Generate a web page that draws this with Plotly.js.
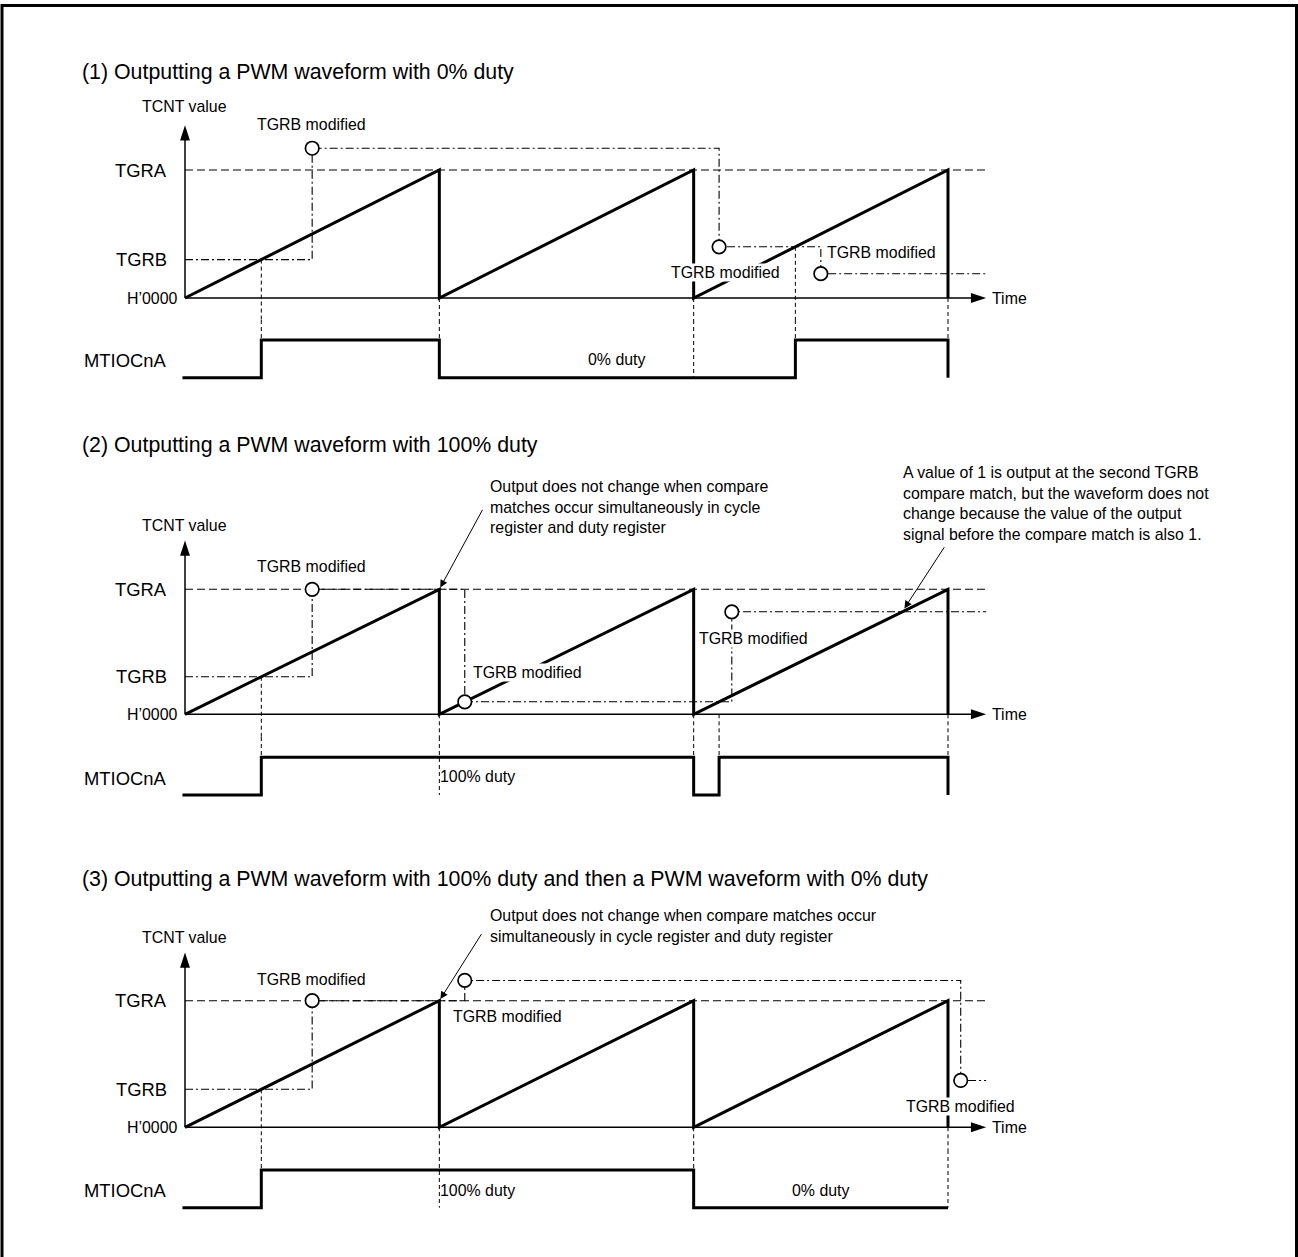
<!DOCTYPE html>
<html>
<head>
<meta charset="utf-8">
<script src="https://cdn.plot.ly/plotly-3.0.1.min.js"></script>
<style>
html,body{margin:0;padding:0;background:#ffffff;}
#chart{width:1298px;height:1257px;}
</style>
</head>
<body>
<div id="chart"></div>
<script>
// ================= DATA =================
// TCNT levels (TGRA normalised to 100)
const levelLabels = ["H\u20190000", "TGRB", "TGRA"];
const levelValues = [0, 30, 100];

// TCNT sawtooth, time in counter periods (same for all three panels)
const tcntT = [0, 1, 1, 2, 2, 3, 3];
const tcntV = [0, 100, 0, 100, 0, 100, 0];
const timeEnd = 3.15;

const panelTitles = [
  "(1) Outputting a PWM waveform with 0% duty",
  "(2) Outputting a PWM waveform with 100% duty",
  "(3) Outputting a PWM waveform with 100% duty and then a PWM waveform with 0% duty"
];

// Panel 1 : TGRB write path (dash-dot), written values (circles), MTIOCnA output, guide lines
const p1PathT = [0, 0.5, 0.5, 2.1, 2.1, 2.5, 2.5, 3.15];
const p1PathV = [30, 30, 117, 117, 40, 40, 19, 19];
const p1CircT = [0.5, 2.1, 2.5];
const p1CircV = [117, 40, 19];
const p1OutT = [-0.01, 0.3, 0.3, 1, 1, 2.4, 2.4, 3, 3];
const p1OutV = [0, 0, 1, 1, 0, 0, 1, 1, 0];
const p1ConnT = [0.3, 1, 2, 2.4, 3];
const p1ConnV = [30, 0, 0, 40, 0];
const p1ConnOut = [1, 0, 0, 1, 1];

// Panel 2
const p2PathT = [0, 0.5, 0.5, 1.1, 1.1, 2.15, 2.15, 3.15];
const p2PathV = [30, 30, 100, 100, 10, 10, 82, 82];
const p2CircT = [0.5, 1.1, 2.15];
const p2CircV = [100, 10, 82];
const p2OutT = [-0.01, 0.3, 0.3, 2, 2, 2.1, 2.1, 3, 3];
const p2OutV = [0, 0, 1, 1, 0, 0, 1, 1, 0];
const p2ConnT = [0.3, 1, 2, 2.1, 3];
const p2ConnV = [30, 0, 0, 0, 0];
const p2ConnOut = [1, 0, 1, 1, 1];

// Panel 3
const p3PathT = [0, 0.5, 0.5, 1.1, 1.1, 3.05, 3.05, 3.15];
const p3PathV = [30, 30, 100, 100, 116, 116, 37, 37];
const p3CircT = [0.5, 1.1, 3.05];
const p3CircV = [100, 116, 37];
const p3OutT = [-0.01, 0.3, 0.3, 2, 2, 3];
const p3OutV = [0, 0, 1, 1, 0, 0];
const p3ConnT = [0.3, 1, 2, 3];
const p3ConnV = [30, 0, 0, 0];
const p3ConnOut = [1, 0, 1, 0];

const outputLabel = "MTIOCnA";
const axisLabelY = "TCNT value";
const axisLabelX = "Time";
const modLabel = "TGRB modified";

const notes = [
  "Output does not change when compare<br>matches occur simultaneously in cycle<br>register and duty register",
  "A value of 1 is output at the second TGRB<br>compare match, but the waveform does not<br>change because the value of the output<br>signal before the compare match is also 1.",
  "Output does not change when compare matches occur<br>simultaneously in cycle register and duty register"
];

// ================= LAYOUT GEOMETRY (pixels) =================
const W = 1298, H = 1257;
const X0 = 185, PXT = 254.33;
const FONT = 'Arial, "Liberation Sans", Helvetica, sans-serif';
const SMALL = 15.9, BIG = 18.4, TITLE = 21.35;
const geo = [
  {h0: 298,    a: 170,    hi: 340,    lo: 377.7,  top: 95,  split: 320,  bot: 400,  axTop: 135, title: 72,  tcntLbl: 107},
  {h0: 714.3,  a: 589.3,  hi: 757.3,  lo: 795,    top: 515, split: 737,  bot: 815,  axTop: 139, title: 445, tcntLbl: 525},
  {h0: 1127.3, a: 1000.7, hi: 1170,   lo: 1207.7, top: 930, split: 1150, bot: 1235, axTop: 138, title: 879, tcntLbl: 937}
];

const panels = [
  {pathT: p1PathT, pathV: p1PathV, circT: p1CircT, circV: p1CircV, outT: p1OutT, outV: p1OutV, connT: p1ConnT, connV: p1ConnV, connOut: p1ConnOut},
  {pathT: p2PathT, pathV: p2PathV, circT: p2CircT, circV: p2CircV, outT: p2OutT, outV: p2OutV, connT: p2ConnT, connV: p2ConnV, connOut: p2ConnOut},
  {pathT: p3PathT, pathV: p3PathV, circT: p3CircT, circV: p3CircV, outT: p3OutT, outV: p3OutV, connT: p3ConnT, connV: p3ConnV, connOut: p3ConnOut}
];

const layout = {
  width: W, height: H,
  margin: {l: 0, r: 0, t: 0, b: 0},
  paper_bgcolor: '#ffffff', plot_bgcolor: 'rgba(0,0,0,0)',
  showlegend: false,
  font: {family: FONT, color: '#000000'},
  xaxis: {domain: [0, 1], range: [-X0 / PXT, (W - X0) / PXT], visible: false, fixedrange: true},
  annotations: [],
  shapes: [{type: 'rect', xref: 'paper', yref: 'paper', x0: 2 / W, x1: 1296.5 / W, y0: 1 - 5.5 / H, y1: -0.05,
            line: {color: '#000000', width: 3}, fillcolor: 'rgba(0,0,0,0)'}]
};

const traces = [];
function P(px, py) { return {x: px / W, y: 1 - py / H}; }
function txt(s, px, py, size, xanchor, extra) {
  const p = P(px, py);
  layout.annotations.push(Object.assign({text: s, x: p.x, y: p.y, xref: 'paper', yref: 'paper',
    xanchor: xanchor || 'center', yanchor: 'middle', showarrow: false,
    font: {family: FONT, size: size, color: '#000000'}}, extra || {}));
}

const K = '#000000';
const DASH = '8px,4px';
const DASHDOT = '8px,3px,2px,3px';
const SHORTDASH = '4px,3px';

geo.forEach(function (g, i) {
  const pn = panels[i];
  const yT = i === 0 ? 'y' : 'y' + (2 * i + 1);
  const yO = 'y' + (2 * i + 2);
  const kT = i === 0 ? 'yaxis' : 'yaxis' + (2 * i + 1);
  const kO = 'yaxis' + (2 * i + 2);
  const s = (g.h0 - g.a) / 100;   // px per TCNT unit
  const u = g.lo - g.hi;          // px per output unit
  const tRange = [(g.h0 - g.split) / s, (g.h0 - g.top) / s];
  const oRange = [(g.lo - g.bot) / u, 1 + (g.hi - g.split) / u];
  layout[kT] = {domain: [1 - g.split / H, 1 - g.top / H], range: tRange, anchor: 'x', visible: false, fixedrange: true};
  layout[kO] = {domain: [1 - g.bot / H, 1 - g.split / H], range: oRange, anchor: 'x', visible: false, fixedrange: true};

  const base = {type: 'scatter', mode: 'lines', xaxis: 'x', hoverinfo: 'skip'};
  // TGRA dashed level
  traces.push(Object.assign({}, base, {yaxis: yT, x: [0, timeEnd], y: [levelValues[2], levelValues[2]],
    line: {color: K, width: 1.1, dash: DASH}}));
  // TGRB write path (dash-dot)
  traces.push(Object.assign({}, base, {yaxis: yT, x: pn.pathT, y: pn.pathV,
    line: {color: K, width: 1.1, dash: DASHDOT}}));
  // vertical guide lines: TCNT part and output part
  const cx1 = [], cy1 = [], cx2 = [], cy2 = [];
  pn.connT.forEach(function (t, j) {
    cx1.push(t, t, null); cy1.push(pn.connV[j], tRange[0], null);
    cx2.push(t, t, null); cy2.push(oRange[1], pn.connOut[j], null);
  });
  traces.push(Object.assign({}, base, {yaxis: yT, x: cx1, y: cy1, line: {color: K, width: 1, dash: SHORTDASH}}));
  traces.push(Object.assign({}, base, {yaxis: yO, x: cx2, y: cy2, line: {color: K, width: 1, dash: SHORTDASH}}));
  // axes
  traces.push(Object.assign({}, base, {yaxis: yT, x: [0, timeEnd - 0.02], y: [0, 0], line: {color: K, width: 1.5}}));
  traces.push(Object.assign({}, base, {yaxis: yT, x: [0, 0], y: [0, g.axTop - 3], line: {color: K, width: 1.5}}));
  // TCNT ramp
  traces.push(Object.assign({}, base, {yaxis: yT, x: tcntT, y: tcntV, line: {color: K, width: 3}}));
  // output waveform
  traces.push(Object.assign({}, base, {yaxis: yO, x: pn.outT, y: pn.outV, line: {color: K, width: 3}}));
  // TGRB written-value circles
  traces.push({type: 'scatter', mode: 'markers', xaxis: 'x', yaxis: yT, hoverinfo: 'skip', cliponaxis: false,
    x: pn.circT, y: pn.circV,
    marker: {symbol: 'circle', size: 13.5, color: '#ffffff', line: {color: K, width: 1.7}}});
  // arrow heads
  traces.push({type: 'scatter', mode: 'markers', xaxis: 'x', yaxis: yT, hoverinfo: 'skip', cliponaxis: false,
    x: [timeEnd, 0], y: [0, g.axTop],
    marker: {symbol: 'arrow', size: 16, angle: [90, 0], color: K, line: {width: 0}}});

  // level labels
  const lblRight = [180, 168.5, 168.5];
  const lblSize = [SMALL, BIG, BIG];
  levelLabels.forEach(function (lb, j) {
    layout.annotations.push({text: lb, x: lblRight[j] / W, xref: 'paper', y: levelValues[j], yref: yT,
      xanchor: 'right', yanchor: 'middle', showarrow: false, font: {family: FONT, size: lblSize[j], color: K}});
  });
  layout.annotations.push({text: outputLabel, x: 168 / W, xref: 'paper', y: 0.45, yref: yO,
    xanchor: 'right', yanchor: 'middle', showarrow: false, font: {family: FONT, size: BIG, color: K}});
  layout.annotations.push({text: axisLabelX, x: 990 / W, xref: 'paper', y: 0, yref: yT,
    xanchor: 'left', yanchor: 'middle', showarrow: false, font: {family: FONT, size: SMALL, color: K}});
  txt(panelTitles[i], 79.5, g.title, TITLE, 'left');
  txt(axisLabelY, 184, g.tcntLbl, SMALL, 'center');
});

// "TGRB modified" labels (white background hides lines passing behind them)
const modBg = {bgcolor: '#ffffff', borderpad: 0};
txt(modLabel, 311, 124, SMALL, 'center', modBg);
txt(modLabel, 725, 272, SMALL, 'center', modBg);
txt(modLabel, 881, 253, SMALL, 'center', modBg);
txt(modLabel, 311, 566, SMALL, 'center', modBg);
txt(modLabel, 527, 672, SMALL, 'center', modBg);
txt(modLabel, 753, 638, SMALL, 'center', modBg);
txt(modLabel, 311, 979, SMALL, 'center', modBg);
txt(modLabel, 507, 1016, SMALL, 'center', modBg);
txt(modLabel, 960, 1106, SMALL, 'center', modBg);

// duty labels
txt("0% duty", 616, 360, SMALL);
txt("100% duty", 438, 777, SMALL, 'left');
txt("100% duty", 438, 1190, SMALL, 'left');
txt("0% duty", 820, 1190, SMALL);

// explanatory notes
txt(notes[0], 488, 506.5, SMALL, 'left', {align: 'left'});
txt(notes[1], 901, 503.5, SMALL, 'left', {align: 'left'});
txt(notes[2], 488, 925.5, SMALL, 'left', {align: 'left'});

// note arrows (pointing at data points)
const arrowBase = {text: '', showarrow: true, arrowhead: 2, arrowsize: 1.5, arrowwidth: 1, arrowcolor: K, standoff: 2};
layout.annotations.push(Object.assign({}, arrowBase, {x: 1, y: 100, xref: 'x', yref: 'y3', ax: 44, ay: -81}));
layout.annotations.push(Object.assign({}, arrowBase, {x: 2.82, y: 82, xref: 'x', yref: 'y3', ax: 43, ay: -66, standoff: 4}));
layout.annotations.push(Object.assign({}, arrowBase, {x: 1, y: 100, xref: 'x', yref: 'y5', ax: 43, ay: -68}));

Plotly.newPlot('chart', traces, layout, {staticPlot: true, displayModeBar: false});
</script>
</body>
</html>
